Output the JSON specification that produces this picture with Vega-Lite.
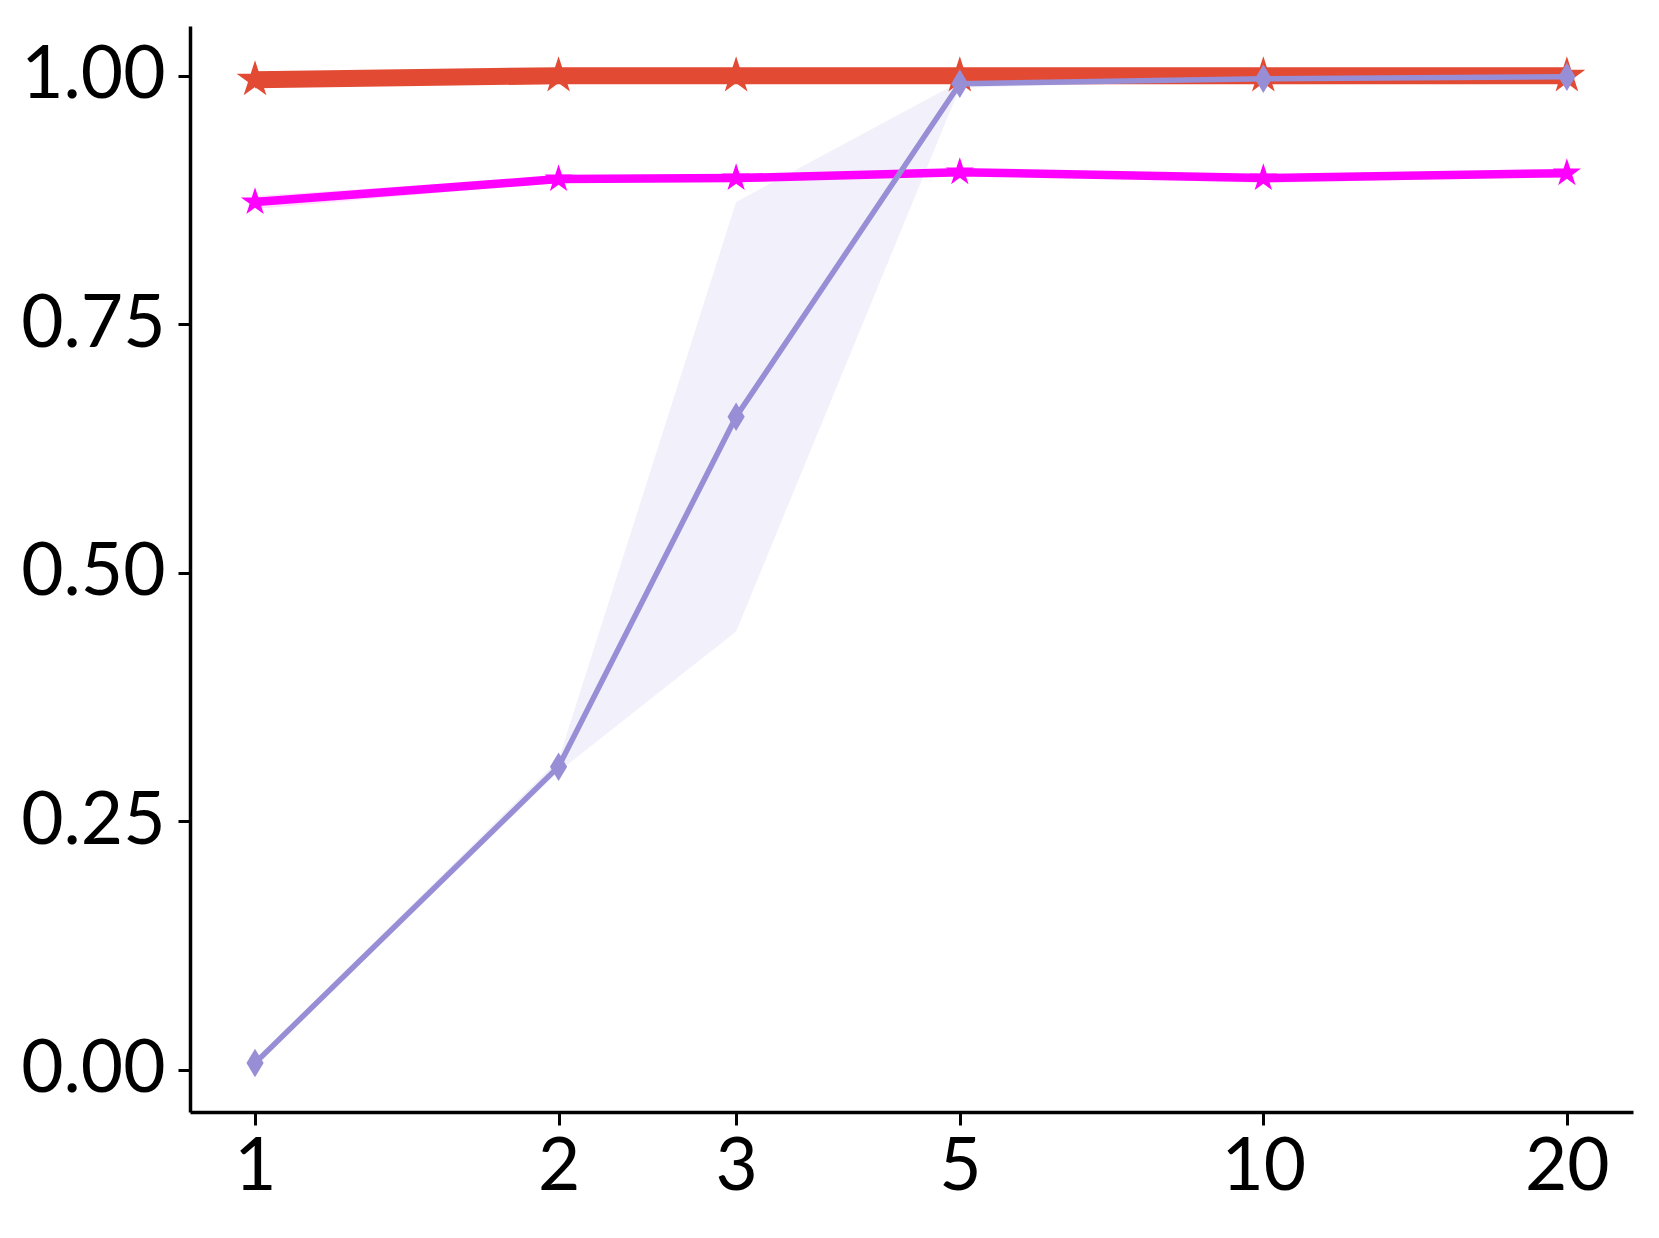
{
  "$schema": "https://vega.github.io/schema/vega-lite/v6.json",
  "width": 1443,
  "height": 1086,
  "autosize": {"type": "none"},
  "padding": {"left": 190, "top": 26, "right": 26, "bottom": 126},
  "background": "white",
  "config": {
    "view": {"stroke": null},
    "axis": {
      "grid": false,
      "domainColor": "black",
      "domainWidth": 3.5,
      "tickColor": "black",
      "tickWidth": 3,
      "labelColor": "black",
      "labelFont": "Lato",
      "labelFontSize": 73,
      "labelFlush": false,
      "labelOverlap": false,
      "title": null
    }
  },
  "data": {
    "values": [
      {"series": "red", "x": 1, "mean": 0.996, "lo": 0.993, "hi": 0.999},
      {"series": "red", "x": 2, "mean": 1.0, "lo": 0.998, "hi": 1.002},
      {"series": "red", "x": 3, "mean": 1.0, "lo": 0.998, "hi": 1.002},
      {"series": "red", "x": 5, "mean": 1.0, "lo": 0.998, "hi": 1.002},
      {"series": "red", "x": 10, "mean": 1.0, "lo": 0.998, "hi": 1.002},
      {"series": "red", "x": 20, "mean": 1.0, "lo": 0.998, "hi": 1.002},
      {"series": "magenta", "x": 1, "mean": 0.873, "lo": 0.866, "hi": 0.879},
      {"series": "magenta", "x": 2, "mean": 0.896, "lo": 0.893, "hi": 0.899},
      {"series": "magenta", "x": 3, "mean": 0.897, "lo": 0.895, "hi": 0.899},
      {"series": "magenta", "x": 5, "mean": 0.903, "lo": 0.901, "hi": 0.905},
      {"series": "magenta", "x": 10, "mean": 0.897, "lo": 0.892, "hi": 0.900},
      {"series": "magenta", "x": 20, "mean": 0.902, "lo": 0.899, "hi": 0.904},
      {"series": "purple", "x": 1, "mean": 0.007, "lo": 0.004, "hi": 0.010},
      {"series": "purple", "x": 2, "mean": 0.305, "lo": 0.300, "hi": 0.312},
      {"series": "purple", "x": 3, "mean": 0.657, "lo": 0.441, "hi": 0.873},
      {"series": "purple", "x": 5, "mean": 0.992, "lo": 0.988, "hi": 0.994},
      {"series": "purple", "x": 10, "mean": 0.997, "lo": 0.995, "hi": 0.999},
      {"series": "purple", "x": 20, "mean": 0.999, "lo": 0.998, "hi": 1.0}
    ]
  },
  "encoding": {
    "x": {
      "field": "x",
      "type": "quantitative",
      "scale": {"type": "log", "domain": [0.862, 23.26], "nice": false, "zero": false},
      "axis": {"values": [1, 2, 3, 5, 10, 20], "format": "d", "tickSize": 13, "labelPadding": 6}
    }
  },
  "layer": [
    {
      "mark": {"type": "area", "fillOpacity": 0.13, "stroke": null},
      "encoding": {
        "y": {"field": "lo", "type": "quantitative", "scale": {"domain": [-0.0423, 1.05], "nice": false, "zero": false},
              "axis": {"values": [0, 0.25, 0.5, 0.75, 1], "format": ".2f", "tickSize": 12, "labelPadding": 13}},
        "y2": {"field": "hi"},
        "color": {"field": "series", "type": "nominal", "scale": {"domain": ["red", "magenta", "purple"], "range": ["#E24A33", "#FF00FF", "#988ED5"]}, "legend": null}
      }
    },
    {
      "transform": [{"filter": {"field": "series", "equal": "red"}}],
      "mark": {"type": "line", "color": "#E24A33", "strokeWidth": 17},
      "encoding": {"y": {"field": "mean", "type": "quantitative"}}
    },
    {
      "transform": [{"filter": {"field": "series", "equal": "red"}}],
      "mark": {"type": "point", "filled": true, "opacity": 1, "color": "#E24A33", "size": 1500,
               "shape": "M0,-1L0.2245,-0.309L0.9511,-0.309L0.3633,0.118L0.5878,0.809L0,0.382L-0.5878,0.809L-0.3633,0.118L-0.9511,-0.309L-0.2245,-0.309Z"},
      "encoding": {"y": {"field": "mean", "type": "quantitative"}}
    },
    {
      "transform": [{"filter": {"field": "series", "equal": "magenta"}}],
      "mark": {"type": "line", "color": "#FF00FF", "strokeWidth": 8.5},
      "encoding": {"y": {"field": "mean", "type": "quantitative"}}
    },
    {
      "transform": [{"filter": {"field": "series", "equal": "magenta"}}],
      "mark": {"type": "point", "filled": true, "opacity": 1, "color": "#FF00FF", "size": 880,
               "shape": "M0,-1L0.2245,-0.309L0.9511,-0.309L0.3633,0.118L0.5878,0.809L0,0.382L-0.5878,0.809L-0.3633,0.118L-0.9511,-0.309L-0.2245,-0.309Z"},
      "encoding": {"y": {"field": "mean", "type": "quantitative"}}
    },
    {
      "transform": [{"filter": {"field": "series", "equal": "purple"}}],
      "mark": {"type": "line", "color": "#988ED5", "strokeWidth": 5.5},
      "encoding": {"y": {"field": "mean", "type": "quantitative"}}
    },
    {
      "transform": [{"filter": {"field": "series", "equal": "purple"}}],
      "mark": {"type": "point", "filled": true, "opacity": 1, "color": "#988ED5", "size": 820,
               "shape": "M0,-1L0.6,0L0,1L-0.6,0Z"},
      "encoding": {"y": {"field": "mean", "type": "quantitative"}}
    }
  ]
}
